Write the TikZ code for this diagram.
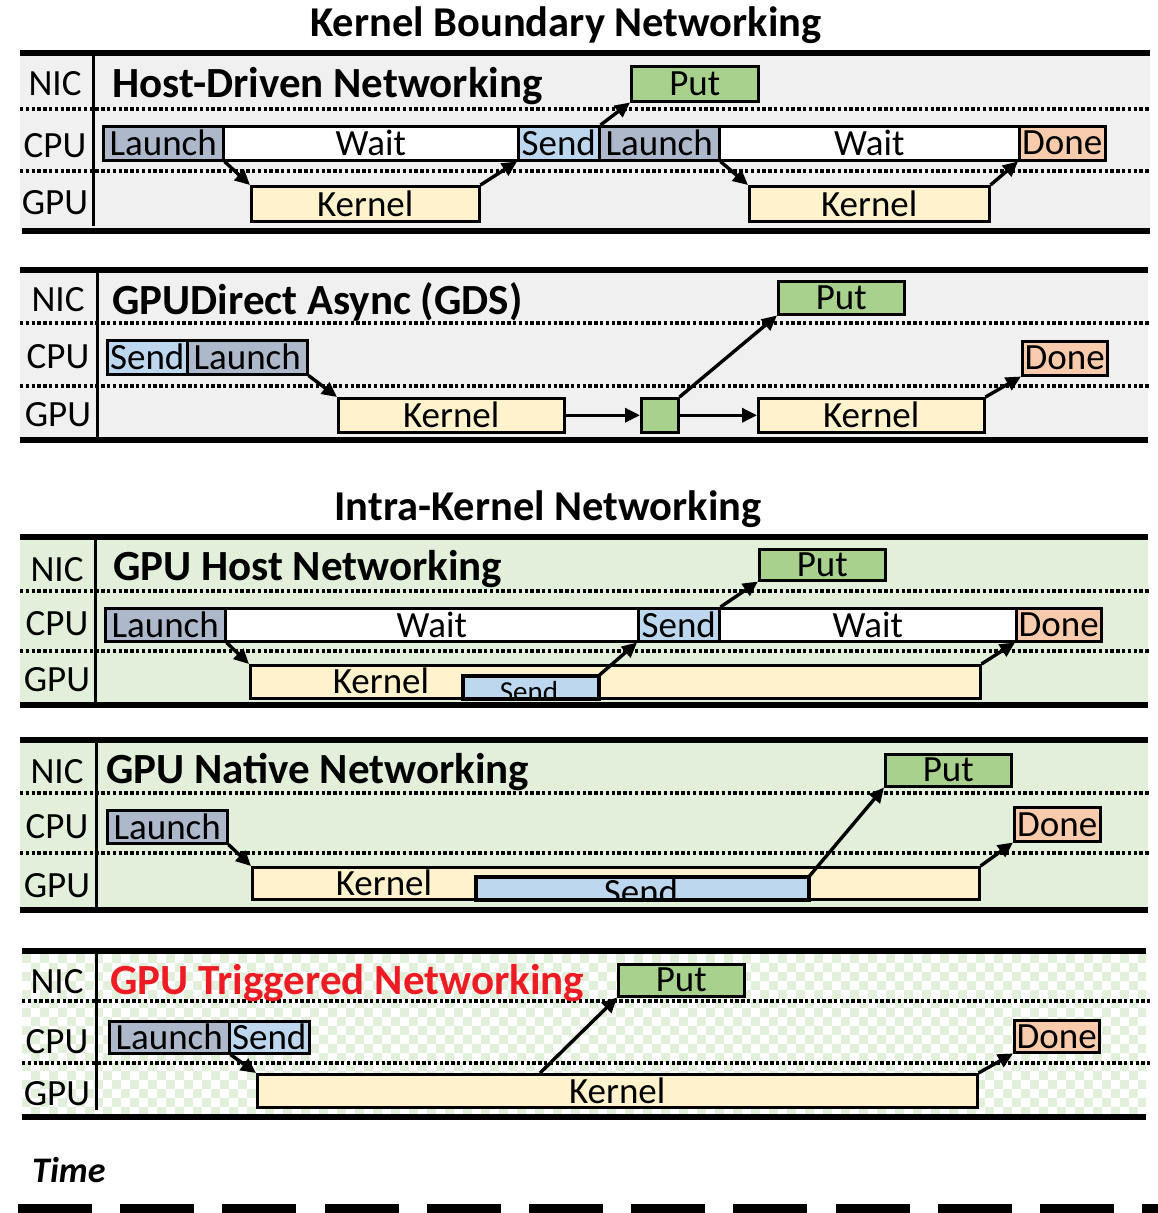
\documentclass[tikz,border=0pt]{standalone}
\usepackage{fontspec}
\setmainfont{Carlito}
\usetikzlibrary{arrows.meta}
\definecolor{launchc}{HTML}{ADB9CA}
\definecolor{sendc}{HTML}{BDD7EE}
\definecolor{putc}{HTML}{A9D18E}
\definecolor{donec}{HTML}{F8CBAD}
\definecolor{kernc}{HTML}{FFF2CC}
\definecolor{grayb}{HTML}{F0F0F0}
\definecolor{greenb}{HTML}{E2EFDA}
\definecolor{redt}{HTML}{ED1C24}
\newcommand\bx[7]{\node[box,fill=#6,minimum width={#4-#2},minimum height={#5-#3}] (#1) at (#2,#3) {#7};}
\begin{document}
\begin{tikzpicture}[x=1pt,y=-1pt,
  box/.style={draw=black, line width=2.5pt, inner sep=0pt, anchor=north west, font=\fontsize{37}{37}\selectfont},
  lbl/.style={font=\fontsize{37}{37}\selectfont, inner sep=0pt},
  arr/.style={line width=3.4pt, -{Triangle[length=15pt,width=14pt]}},
  bar/.style={line width=6pt},
  vline/.style={line width=3pt},
  dotl/.style={line width=3.6pt, dash pattern=on 3.4pt off 2.4pt},
  ptitle/.style={font=\fontsize{43}{43}\selectfont\bfseries, anchor=base west, inner sep=0pt},
  stitle/.style={font=\fontsize{42.5}{42.5}\selectfont\bfseries, anchor=base, inner sep=0pt},
]
\useasboundingbox (0,0) rectangle (1157,1213);
\fill[white] (0,0) rectangle (1157,1213);

% section titles
\node[stitle] (st1) at (566,36) {Kernel Boundary Networking};
\node[stitle] (st2) at (548,520) {Intra-Kernel Networking};

% ---------- panel 1 ----------
\fill[grayb] (20,53) rectangle (1150,231);
\draw[bar] (20,53) -- (1150,53);
\draw[bar] (22,231) -- (1150,231);
\draw[vline] (93,56) -- (93,226);
\draw[dotl] (20,109) -- (1150,109);
\draw[dotl] (20,171) -- (1150,171);
\node[lbl] (n1) at (55,84) {NIC};
\node[lbl] (c1) at (55,146) {CPU};
\node[lbl] (g1) at (55,203) {GPU};
\node[ptitle] (p1) at (112,97) {Host-Driven Networking};
\bx{a1}{630}{65}{757}{100}{putc}{Put}
\bx{a2}{102}{125}{222}{159}{launchc}{Launch}
\bx{a3}{222}{125}{517}{159}{white}{Wait}
\bx{a4}{517}{125}{598}{159}{sendc}{Send}
\bx{a5}{598}{125}{718}{159}{launchc}{Launch}
\bx{a6}{718}{125}{1018}{159}{white}{Wait}
\bx{a7}{1018}{125}{1104}{159}{donec}{Done}
\bx{a8}{250}{185}{478}{220}{kernc}{Kernel}
\bx{a9}{748}{185}{988}{220}{kernc}{Kernel}
\draw[arr] (a2.south east) -- (a8.north west);
\draw[arr] (a8.north east) -- (a4.south west);
\draw[arr] (a4.north east) -- (a1.south west);
\draw[arr] (a5.south east) -- (a9.north west);
\draw[arr] (a9.north east) -- (a7.south west);

% ---------- panel 2 ----------
\fill[grayb] (20,270) rectangle (1148,440);
\draw[bar] (20,270) -- (1148,270);
\draw[bar] (20,440) -- (1148,440);
\draw[vline] (97,273) -- (97,437);
\draw[dotl] (20,323) -- (1150,323);
\draw[dotl] (20,386) -- (1150,386);
\node[lbl] (n2) at (58,300) {NIC};
\node[lbl] (c2) at (58,357) {CPU};
\node[lbl] (g2) at (58,415) {GPU};
\node[ptitle] (p2) at (112,314) {GPUDirect Async (GDS)};
\bx{b1}{777}{280}{903}{313}{putc}{Put}
\bx{b2}{106}{339}{186}{373}{sendc}{Send}
\bx{b3}{186}{339}{306}{373}{launchc}{Launch}
\bx{b4}{1021}{340}{1106}{374}{donec}{Done}
\bx{b5}{337}{397}{563}{431}{kernc}{Kernel}
\bx{b6}{640}{397}{677}{431}{putc}{}
\bx{b7}{757}{397}{983}{431}{kernc}{Kernel}
\draw[arr] (b3.south east) -- (b5.north west);
\draw[arr] (b5.east) -- (b6.west);
\draw[arr] (b6.east) -- (b7.west);
\draw[arr] (b6.north east) -- (b1.south west);
\draw[arr] (b7.north east) -- (b4.south west);

% ---------- panel 3 ----------
\fill[greenb] (20,537) rectangle (1148,705);
\draw[bar] (20,537) -- (1148,537);
\draw[bar] (20,705) -- (1148,705);
\draw[vline] (95,540) -- (95,702);
\draw[dotl] (20,591) -- (1150,591);
\draw[dotl] (20,651) -- (1150,651);
\node[lbl] (n3) at (57,570) {NIC};
\node[lbl] (c3) at (57,624) {CPU};
\node[lbl] (g3) at (57,680) {GPU};
\node[ptitle] (p3) at (113,580) {GPU Host Networking};
\bx{c1}{758}{548}{884}{579}{putc}{Put}
\bx{c2}{104}{607}{224}{640}{launchc}{Launch}
\bx{c3}{224}{607}{637}{640}{white}{Wait}
\bx{c4}{637}{607}{718}{640}{sendc}{Send}
\bx{c5}{718}{607}{1015}{640}{white}{Wait}
\bx{c6}{1015}{607}{1100}{640}{donec}{Done}
\bx{c7}{249}{664}{979}{697}{kernc}{}
\node[lbl] (c7t) at (381,681) {Kernel};
\bx{c8}{462}{675}{597}{697}{sendc}{}
\begin{scope}
\clip (462,675) rectangle (597,697);
\node[font=\fontsize{29}{29}\selectfont, anchor=base, inner sep=0pt] (c8t) at (529,701) {Send};
\end{scope}
\draw[line width=2.5pt] (c8.north west) rectangle (c8.south east);
\draw[arr] (c2.south east) -- (c7.north west);
\draw[arr] (c8.north east) -- (c4.south west);
\draw[arr] (c4.north east) -- (c1.south west);
\draw[arr] (c7.north east) -- (c6.south west);

% ---------- panel 4 ----------
\fill[greenb] (20,740) rectangle (1148,910);
\draw[bar] (20,740) -- (1148,740);
\draw[bar] (20,910) -- (1148,910);
\draw[vline] (96,743) -- (96,907);
\draw[dotl] (20,793) -- (1150,793);
\draw[dotl] (20,853) -- (1150,853);
\node[lbl] (n4) at (57,772) {NIC};
\node[lbl] (c4l) at (57,827) {CPU};
\node[lbl] (g4) at (57,886) {GPU};
\node[ptitle] (p4) at (106,783) {GPU Native Networking};
\bx{d1}{884}{753}{1010}{785}{putc}{Put}
\bx{d2}{106}{809}{226}{842}{launchc}{Launch}
\bx{d3}{1013}{806}{1099}{840}{donec}{Done}
\bx{d4}{251}{866}{978}{898}{kernc}{}
\node[lbl] (d4t) at (384,883) {Kernel};
\bx{d5}{475}{876}{807}{898}{sendc}{}
\begin{scope}
\clip (475,876) rectangle (807,898);
\node[lbl, anchor=base] (d5t) at (641,904) {Send};
\end{scope}
\draw[line width=2.5pt] (d5.north west) rectangle (d5.south east);
\draw[arr] (d2.south east) -- (d4.north west);
\draw[arr] (d5.north east) -- (d1.south west);
\draw[arr] (d4.north east) -- (d3.south west);

% ---------- panel 5 ----------
\fill[white] (22,951) rectangle (1146,1117);
\begin{scope}
\clip (22,954) rectangle (1146,1114);
\foreach \i in {0,...,62} {
  \foreach \j in {0,...,9} {
    \fill[greenb] (22+\i*18,954+\j*18) rectangle ++(9,9);
    \fill[greenb] (31+\i*18,963+\j*18) rectangle ++(9,9);
  }
}
\end{scope}
\draw[bar] (22,951) -- (1146,951);
\draw[bar] (22,1117) -- (1146,1117);
\draw[vline] (96,954) -- (96,1110);
\draw[dotl] (22,1001) -- (1150,1001);
\draw[dotl] (22,1063) -- (1150,1063);
\node[lbl] (n5) at (57,982) {NIC};
\node[lbl] (c5l) at (57,1042) {CPU};
\node[lbl] (g5) at (57,1094) {GPU};
\node[ptitle, text=redt] (p5) at (110,994) {GPU Triggered Networking};
\bx{e1}{617}{963}{743}{995}{putc}{Put}
\bx{e2}{108}{1020}{228}{1052}{launchc}{Launch}
\bx{e3}{228}{1020}{308}{1052}{sendc}{Send}
\bx{e4}{1013}{1019}{1098}{1051}{donec}{Done}
\bx{e5}{256}{1073}{976}{1106}{kernc}{Kernel}
\coordinate (e6) at (540,1073);
\draw[arr] (e2.south east) -- (e5.north west);
\draw[arr] (e6) -- (e1.south west);
\draw[arr] (e5.north east) -- (e4.south west);

% ---------- time ----------
\node[font=\fontsize{36}{36}\selectfont\bfseries\itshape, anchor=west, inner sep=0pt] (time) at (32,1170) {Time};
\draw[line width=9pt, dash pattern=on 74pt off 28.2pt] (18,1208) -- (1160,1208);
\end{tikzpicture}
\end{document}
